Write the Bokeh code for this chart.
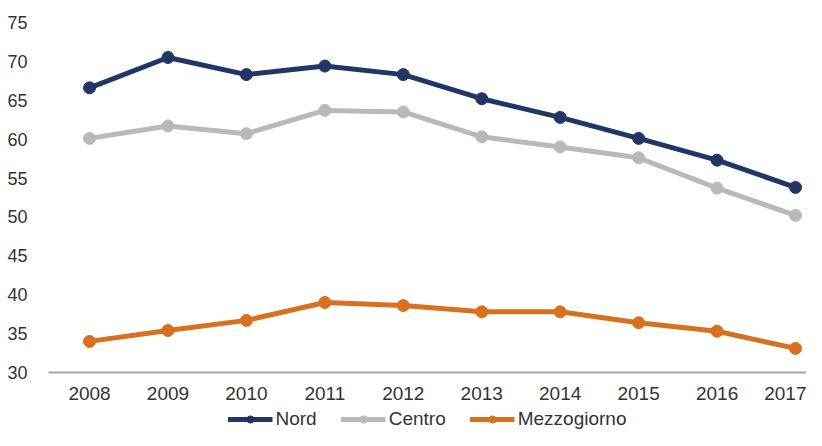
from bokeh.plotting import figure
from bokeh.layouts import column
from bokeh.models import Legend, LegendItem, FixedTicker, Range1d
from bokeh.embed import file_html
from bokeh.resources import INLINE

years = [2008, 2009, 2010, 2011, 2012, 2013, 2014, 2015, 2016, 2017]
nord = [66.6, 70.5, 68.3, 69.4, 68.3, 65.2, 62.8, 60.1, 57.3, 53.8]
centro = [60.1, 61.7, 60.7, 63.7, 63.5, 60.3, 59.0, 57.6, 53.7, 50.2]
mezzogiorno = [34.0, 35.4, 36.7, 39.0, 38.6, 37.8, 37.8, 36.4, 35.3, 33.1]
series_names = ["Nord", "Centro", "Mezzogiorno"]
colors = ["#203766", "#b9b9b9", "#d7711f"]
y_ticks = [30, 35, 40, 45, 50, 55, 60, 65, 70, 75]

FONT = "Liberation Sans"
TXT = "#333333"

p = figure(width=806, height=406, output_backend="svg", toolbar_location=None,
           x_range=Range1d(2007.477, 2017.14), y_range=Range1d(30, 75),
           min_border_left=48, min_border_right=0, min_border_top=22,
           min_border_bottom=34)
p.outline_line_color = None
p.xgrid.visible = False
p.ygrid.visible = False

series = [nord, centro, mezzogiorno]
for name, vals, c in zip(series_names, series, colors):
    p.line(years, vals, line_color=c, line_width=5)
    p.scatter(years, vals, size=12, fill_color=c, line_color=c)

p.xaxis.ticker = FixedTicker(ticks=years)
p.yaxis.ticker = FixedTicker(ticks=y_ticks)
for ax in (p.xaxis, p.yaxis):
    ax.major_tick_line_color = None
    ax.minor_tick_line_color = None
    ax.major_label_text_font = FONT
    ax.major_label_text_color = TXT
p.xaxis.major_label_text_font_size = "19px"
p.yaxis.major_label_text_font_size = "18px"
p.xaxis.axis_line_color = "#a6a6a6"
p.xaxis.axis_line_width = 2
p.xaxis.major_label_standoff = 8
p.yaxis.axis_line_color = None
p.yaxis.major_label_standoff = 15

# legend strip (its renderers are hidden; only the legend shows)
lg = figure(width=806, height=24, output_backend="svg", toolbar_location=None,
            x_axis_type=None, y_axis_type=None, min_border_left=48,
            min_border_right=0, min_border_top=0, min_border_bottom=0,
            x_range=Range1d(0, 1), y_range=Range1d(0, 1))
lg.outline_line_color = None
lg.xgrid.visible = False
lg.ygrid.visible = False
items = []
for name, vals, c in zip(series_names, series, colors):
    l = lg.line(years, vals, line_color=c, line_width=5, visible=False)
    s = lg.scatter(years, vals, size=12, fill_color=c, line_color=c, visible=False)
    items.append(LegendItem(label=name, renderers=[l, s]))
legend = Legend(items=items, orientation="horizontal", location="bottom_center",
                label_text_font=FONT, label_text_font_size="19px",
                label_text_color=TXT, glyph_width=45, glyph_height=18,
                label_height=18, label_standoff=3, spacing=24, padding=0,
                margin=0, border_line_color=None, background_fill_alpha=0)
lg.add_layout(legend, "center")

layout = column(p, lg, spacing=0)
open("out.html", "w").write(file_html(layout, INLINE))
